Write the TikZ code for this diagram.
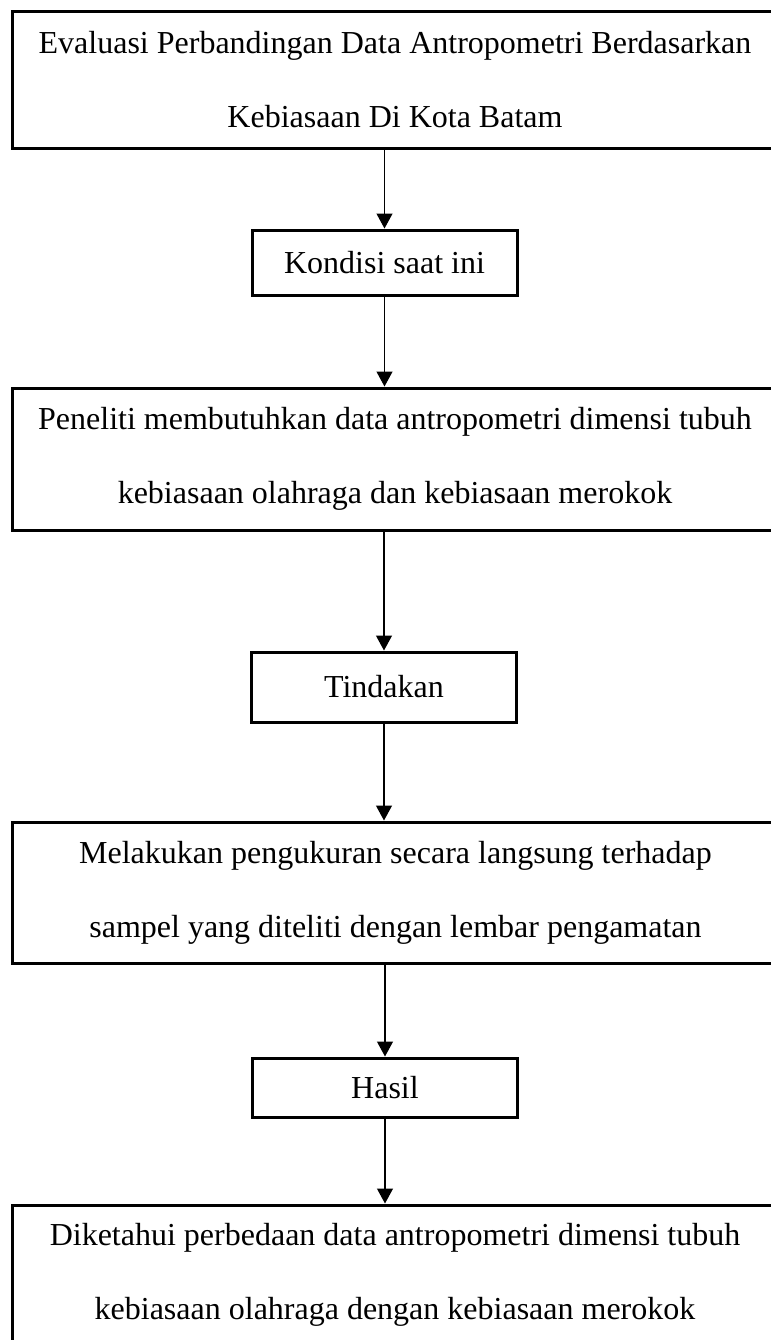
\documentclass[tikz,border=0pt]{standalone}
\usepackage{fontspec}
\setmainfont{Liberation Serif}
\usetikzlibrary{arrows.meta}
\tikzset{
  widebox/.style={draw,line width=1.5pt,minimum width=383pt,align=center,
    font=\fontsize{16}{37}\selectfont},
  smallbox/.style={draw,line width=1.5pt,minimum width=132.5pt,
    font=\fontsize{16}{20}\selectfont},
  flow/.style={-{Triangle[length=7.5pt,width=8pt]},line width=0.6pt}
}
\begin{document}
\begin{tikzpicture}[x=0.5pt,y=-0.5pt]
\useasboundingbox (0,0) rectangle (771,1340);
\node[widebox,minimum height=68.5pt] (judul) at (395,79.5)
  {Evaluasi Perbandingan Data Antropometri Berdasarkan\\Kebiasaan Di Kota Batam};
\node[smallbox,minimum height=32.5pt] (kondisi) at (384.5,262.5) {Kondisi saat ini};
\node[widebox,minimum height=71pt] (peneliti) at (395,459)
  {Peneliti membutuhkan data antropometri dimensi tubuh\\kebiasaan olahraga dan kebiasaan merokok};
\node[smallbox,minimum height=35pt] (tindakan) at (384,687) {Tindakan};
\node[widebox,minimum height=70.5pt] (ukur) at (395.5,892.5)
  {Melakukan pengukuran secara langsung terhadap\\sampel yang diteliti dengan lembar pengamatan};
\node[smallbox,minimum height=29.5pt] (hasil) at (385,1087.5) {Hasil};
\node[widebox,minimum height=70pt] (tahu) at (395,1275)
  {Diketahui perbedaan data antropometri dimensi tubuh\\kebiasaan olahraga dengan kebiasaan merokok};
% alur
\draw[flow] (judul.south -| kondisi.north) -- (kondisi.north);
\draw[flow] (kondisi.south) -- (kondisi.south |- peneliti.north);
\draw[flow] (peneliti.south -| tindakan.north) -- (tindakan.north);
\draw[flow] (tindakan.south) -- (tindakan.south |- ukur.north);
\draw[flow] (ukur.south -| hasil.north) -- (hasil.north);
\draw[flow] (hasil.south) -- (hasil.south |- tahu.north);
\end{tikzpicture}
\end{document}
